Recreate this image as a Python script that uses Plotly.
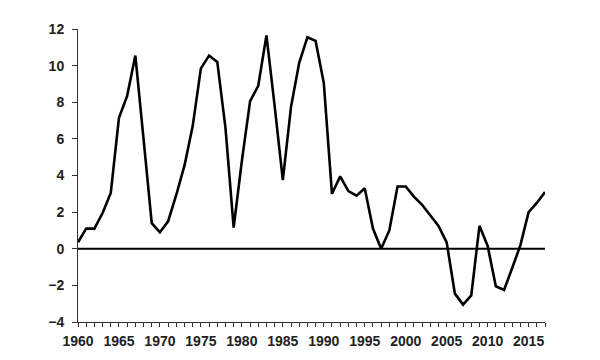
import plotly.graph_objects as go

years = list(range(1960, 2018))
values = [0.35, 1.1, 1.1, 1.95, 3.05, 7.15, 8.35, 10.55, 6.0, 1.4, 0.9, 1.5,
          2.95, 4.55, 6.7, 9.85, 10.55, 10.2, 6.6, 1.15, 4.8, 8.05, 8.9,
          11.65, 7.8, 3.75, 7.75, 10.15, 11.55, 11.35, 9.05, 3.0, 3.95, 3.15,
          2.9, 3.3, 1.1, 0.0, 1.0, 3.4, 3.4, 2.85, 2.4, 1.85, 1.25, 0.35,
          -2.45, -3.05, -2.55, 1.25, 0.15, -2.05, -2.25, -1.05, 0.2, 2.0,
          2.5, 3.1]

tickfont = dict(family="Liberation Sans, Arial, sans-serif", size=14,
                color="#222222", weight="bold")

fig = go.Figure()
fig.add_trace(go.Scatter(x=years, y=values, mode="lines",
                         line=dict(color="black", width=2.6), showlegend=False))
fig.add_hline(y=0, line=dict(color="black", width=2))

fig.update_layout(
    width=600, height=360,
    margin=dict(l=78, r=55, t=29, b=38),
    paper_bgcolor="white", plot_bgcolor="white",
    xaxis=dict(range=[1960, 2017], tickmode="linear", tick0=1960, dtick=5,
               showgrid=False, zeroline=False, showline=True, linecolor="#333333",
               linewidth=1, ticks="outside", ticklen=4, tickcolor="#333333",
               tickfont=tickfont, ticklabelstandoff=2,
               minor=dict(dtick=1, tick0=1960, ticks="outside", ticklen=4,
                          tickcolor="#333333", showgrid=False)),
    yaxis=dict(range=[-4, 12], tickmode="linear", tick0=-4, dtick=2,
               showgrid=False, zeroline=False, showline=True, linecolor="#333333",
               linewidth=1, ticks="outside", ticklen=5, tickcolor="#333333",
               tickfont=tickfont, ticklabelstandoff=5),
)

fig.write_html("out.html")
